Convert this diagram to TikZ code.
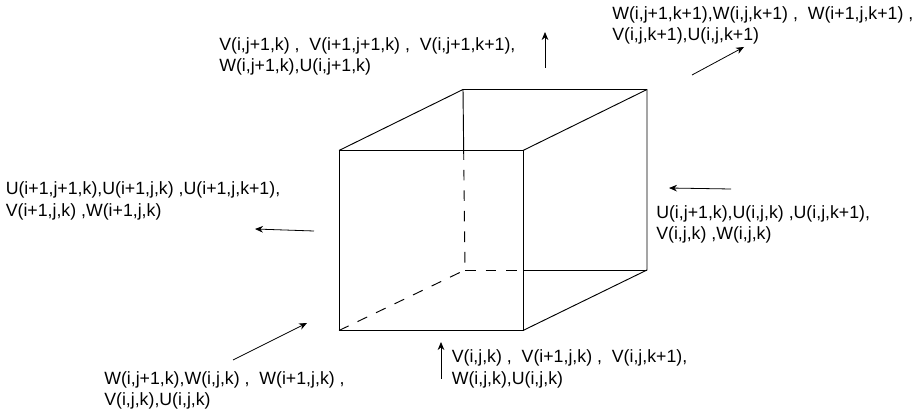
\documentclass[tikz,border=0pt]{standalone}
\usepackage{fontspec}
\setmainfont{Liberation Sans}
\usetikzlibrary{calc,arrows.meta}
\tikzset{
	lbl/.style={anchor=west,align=left,inner sep=0pt,font=\fontsize{13.3pt}{16pt}\selectfont},
	edge/.style={line width=0.7pt},
	hidden/.style={line width=0.7pt,dash pattern=on 8pt off 7.4pt},
	arr/.style={-{Stealth[length=6pt,width=5pt]},line width=0.6pt}
}
\begin{document}
\begin{tikzpicture}[line join=round,x=0.75pt,y=-0.75pt]
	\useasboundingbox (0,0) rectangle (918,413);
	% Mặt trước
	\coordinate (A) at (339,150.5);
	\coordinate (B) at (523,150.5);
	\coordinate (C) at (523,330.5);
	\coordinate (D) at (339,330.5);
	% Mặt sau
	\coordinate (E) at (463,89.5);
	\coordinate (F) at (647,89.5);
	\coordinate (G) at (647,270);
	\coordinate (H) at (465,270);
	\draw[edge] (A)--(B)--(C)--(D)--cycle;
	\draw[edge] (A)--(E)--(F)--(G)--(C);
	\draw[edge] (B)--(F);
	\draw[edge] (E)--($(E)!0.39!(H)$) coordinate (E1);
	\draw[edge] (B|-G) coordinate (G1)--(G);
	\draw[hidden,dash phase=8pt] (E1)--(H);
	\draw[hidden] (H)--(G1);
	\draw[hidden] (D)--(H);
	% Nhãn
	\node[lbl] (top) at (219,56.5) {V(i,j+1,k) ,\ \ V(i+1,j+1,k) ,\ \ V(i,j+1,k+1),\\W(i,j+1,k),U(i,j+1,k)};
	\node[lbl] (back) at (612,25.5) {W(i,j+1,k+1),W(i,j,k+1) ,\ \ W(i+1,j,k+1) ,\\V(i,j,k+1),U(i,j,k+1)};
	\node[lbl] (right) at (5.5,201) {U(i+1,j+1,k),U(i+1,j,k) ,U(i+1,j,k+1),\\V(i+1,j,k) ,W(i+1,j,k)};
	\node[lbl] (left) at (656,224.5) {U(i,j+1,k),U(i,j,k) ,U(i,j,k+1),\\V(i,j,k) ,W(i,j,k)};
	\node[lbl] (front) at (104,390.5) {W(i,j+1,k),W(i,j,k) ,\ \ W(i+1,j,k) ,\\V(i,j,k),U(i,j,k)};
	\node[lbl] (bottom) at (451.5,369) {V(i,j,k) ,\ \ V(i+1,j,k) ,\ \ V(i,j,k+1),\\W(i,j,k),U(i,j,k)};
	% Mũi tên
	\coordinate (t1) at (545,68);
	\coordinate (t2) at (545,32);
	\coordinate (b1) at (692,75);
	\coordinate (b2) at (744,47);
	\coordinate (r1) at (314,231);
	\coordinate (r2) at (255,229);
	\coordinate (l1) at (731,189);
	\coordinate (l2) at (669,188);
	\coordinate (f1) at (233,360);
	\coordinate (f2) at (307,323);
	\coordinate (d1) at (441,379);
	\coordinate (d2) at (441,342);
	\foreach \p/\q in {t1/t2,b1/b2,r1/r2,l1/l2,f1/f2,d1/d2}
		\draw[arr] (\p)--(\q);
\end{tikzpicture}
\end{document}
